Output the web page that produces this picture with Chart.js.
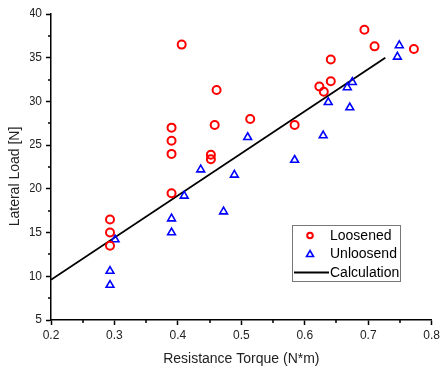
<!DOCTYPE html>
<html>
<head>
<meta charset="utf-8">
<script src="https://cdn.jsdelivr.net/npm/chart.js@4/dist/chart.umd.min.js"></script>
<style>
  html, body { margin: 0; padding: 0; background: #fff; }
  canvas { display: block; }
</style>
</head>
<body>
<canvas id="chart" width="443" height="371"></canvas>
<script>
// data
const loosenedX = [0.406, 0.390, 0.390, 0.390, 0.390, 0.293, 0.293, 0.293, 0.461, 0.458, 0.452, 0.452,
                   0.514, 0.584, 0.623, 0.630, 0.641, 0.641, 0.694, 0.710, 0.772];
const loosenedY = [36.5, 27.0, 25.5, 24.0, 19.5, 16.5, 15.0, 13.5, 31.3, 27.3, 23.9, 23.4,
                   28.0, 27.3, 31.7, 31.1, 34.8, 32.3, 38.2, 36.3, 36.0];
const unloosendX = [0.436, 0.301, 0.293, 0.293, 0.390, 0.390, 0.410, 0.749, 0.746, 0.675, 0.667,
                    0.637, 0.671, 0.510, 0.629, 0.584, 0.489, 0.472];
const unloosendY = [22.2, 14.2, 10.6, 9.0, 16.6, 15.0, 19.2, 36.4, 35.1, 32.2, 31.6,
                    29.9, 29.3, 25.9, 26.1, 23.3, 21.6, 17.4];
const calcX = [0.2, 0.727];
const calcY = [9.6, 35.0];

const xTicks = [0.2, 0.3, 0.4, 0.5, 0.6, 0.7, 0.8];
const yTicks = [5, 10, 15, 20, 25, 30, 35, 40];

const FONT = '"Liberation Sans", Arial, sans-serif';

function toPoints(xs, ys) {
    return xs.map((x, i) => ({ x: x, y: ys[i] }));
}

// minor ticks halfway between the major ones
const minorTicks = {
    id: 'minorTicks',
    afterDraw(chart) {
        const ctx = chart.ctx;
        const xs = chart.scales.x, ys = chart.scales.y;
        ctx.save();
        ctx.strokeStyle = '#000';
        ctx.lineWidth = 1.5;
        ctx.beginPath();
        for (let i = 0; i < xTicks.length - 1; i++) {
            const px = Math.round(xs.getPixelForValue((xTicks[i] + xTicks[i + 1]) / 2));
            ctx.moveTo(px, ys.bottom);
            ctx.lineTo(px, ys.bottom + 3);
        }
        for (let i = 0; i < yTicks.length - 1; i++) {
            const py = Math.round(ys.getPixelForValue((yTicks[i] + yTicks[i + 1]) / 2));
            ctx.moveTo(xs.left, py);
            ctx.lineTo(xs.left - 3, py);
        }
        ctx.stroke();
        ctx.restore();
    }
};

// y title sits a bit below the middle of the axis in the original
const yTitle = {
    id: 'yTitle',
    afterDraw(chart) {
        const ctx = chart.ctx;
        ctx.save();
        ctx.translate(15, 176.5);
        ctx.rotate(-Math.PI / 2);
        ctx.font = '14px ' + FONT;
        ctx.fillStyle = '#222';
        ctx.textAlign = 'center';
        ctx.textBaseline = 'middle';
        ctx.fillText('Lateral Load [N]', 0, 0);
        ctx.restore();
    }
};

// boxed legend inside the plot, like the original
const boxLegend = {
    id: 'boxLegend',
    afterDraw(chart) {
        const ctx = chart.ctx;
        const bx = 292, by = 225, bw = 108, bh = 56;
        ctx.save();
        ctx.fillStyle = '#fff';
        ctx.fillRect(bx, by, bw, bh);
        ctx.strokeStyle = '#777';
        ctx.lineWidth = 1;
        ctx.strokeRect(bx + 0.5, by + 0.5, bw, bh);

        ctx.font = '14px ' + FONT;
        ctx.fillStyle = '#000';
        ctx.textBaseline = 'middle';
        const tx = 330;
        const rows = [235.5, 254, 272.5];
        const labels = chart.data.datasets.map(d => d.label);

        // circle
        ctx.strokeStyle = '#ff0000';
        ctx.lineWidth = 2;
        ctx.beginPath();
        ctx.arc(310, rows[0], 2.8, 0, Math.PI * 2);
        ctx.stroke();
        // triangle
        ctx.strokeStyle = '#0000ff';
        ctx.lineWidth = 1.6;
        ctx.beginPath();
        ctx.moveTo(310, rows[1] - 3.5);
        ctx.lineTo(313.5, rows[1] + 2.5);
        ctx.lineTo(306.5, rows[1] + 2.5);
        ctx.closePath();
        ctx.stroke();
        // line
        ctx.strokeStyle = '#000';
        ctx.lineWidth = 1.8;
        ctx.beginPath();
        ctx.moveTo(294, rows[2]);
        ctx.lineTo(329, rows[2]);
        ctx.stroke();

        labels.forEach((t, i) => ctx.fillText(t, tx, rows[i] + 0.5));
        ctx.restore();
    }
};

const ctx = document.getElementById('chart').getContext('2d');
new Chart(ctx, {
    type: 'scatter',
    data: {
        datasets: [{
            label: 'Loosened',
            data: toPoints(loosenedX, loosenedY),
            pointStyle: 'circle',
            pointRadius: 4,
            pointBorderWidth: 2,
            borderColor: '#ff0000',
            backgroundColor: 'rgba(0,0,0,0)'
        }, {
            label: 'Unloosend',
            data: toPoints(unloosendX, unloosendY),
            pointStyle: 'triangle',
            pointRadius: 4.5,
            pointBorderWidth: 1.6,
            borderColor: '#0000ff',
            backgroundColor: 'rgba(0,0,0,0)'
        }, {
            label: 'Calculation',
            data: toPoints(calcX, calcY),
            showLine: true,
            pointRadius: 0,
            borderColor: '#000',
            borderWidth: 1.8
        }]
    },
    options: {
        responsive: false,
        animation: false,
        devicePixelRatio: 1,
        layout: { padding: { top: 14, right: 8, left: 30, bottom: 0 } },
        plugins: {
            legend: { display: false },
            tooltip: { enabled: false }
        },
        scales: {
            x: {
                type: 'linear',
                min: 0.2,
                max: 0.8,
                afterBuildTicks: s => { s.ticks = xTicks.map(v => ({ value: v })); },
                afterFit: s => { s.height = 51; },
                border: { display: true, color: '#000', width: 1.5 },
                grid: { drawOnChartArea: false, drawTicks: true, tickLength: 5, tickWidth: 1.5, tickColor: '#000' },
                ticks: {
                    autoSkip: false,
                    maxRotation: 0,
                    padding: 3,
                    color: '#222',
                    font: { family: FONT, size: 12 },
                    callback: v => v.toFixed(1)
                },
                title: {
                    display: true,
                    text: 'Resistance Torque (N*m)',
                    color: '#222',
                    font: { family: FONT, size: 14 },
                    padding: { top: 0, bottom: 3 }
                }
            },
            y: {
                type: 'linear',
                min: 5,
                max: 40,
                afterBuildTicks: s => { s.ticks = yTicks.map(v => ({ value: v })); },
                afterFit: s => { s.width = 21; },
                border: { display: true, color: '#000', width: 1.5 },
                grid: { drawOnChartArea: false, drawTicks: true, tickLength: 5, tickWidth: 1.5, tickColor: '#000' },
                ticks: {
                    autoSkip: false,
                    padding: 4,
                    color: '#222',
                    font: { family: FONT, size: 12 }
                },
                title: { display: false }
            }
        }
    },
    plugins: [minorTicks, yTitle, boxLegend]
});
</script>
</body>
</html>
